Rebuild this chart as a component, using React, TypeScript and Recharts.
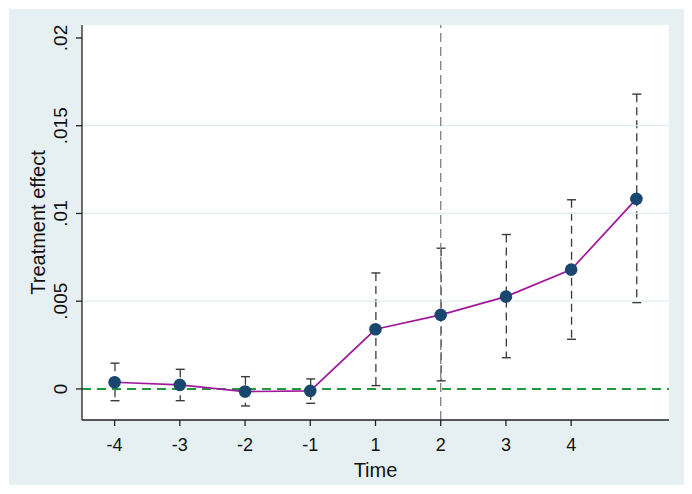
import React from "react";
import {
  ComposedChart,
  Line,
  Bar,
  XAxis,
  YAxis,
  ReferenceLine,
} from "recharts";

// Event-study periods relative to treatment (last period is drawn without a tick label)
const periods = [-4, -3, -2, -1, 1, 2, 3, 4, 5];
const tickLabels = ["-4", "-3", "-2", "-1", "1", "2", "3", "4"];

// Point estimates and 95% confidence bounds
const estimates = [0.00038, 0.00023, -0.00015, -0.00011, 0.0034, 0.00422, 0.00526, 0.0068, 0.01083];
const ciLow = [-0.00067, -0.00067, -0.00097, -0.00082, 0.00019, 0.00046, 0.00178, 0.00283, 0.00492];
const ciHigh = [0.00147, 0.00112, 0.0007, 0.00057, 0.00661, 0.00802, 0.0088, 0.01078, 0.0168];

const yTicks = [0, 0.005, 0.01, 0.015, 0.02];
const gridValues = [0.005, 0.01, 0.015];
const treatmentPeriod = 2;

const data = periods.map((p, i) => ({
  idx: i,
  period: p,
  est: estimates[i],
  ci: [ciLow[i], ciHigh[i]],
}));

const FONT = "'Liberation Sans', Arial, sans-serif";

const fmtY = (v: number) => {
  if (v === 0) return "0";
  return String(v).replace(/^0/, "");
};

const YTick = (props: any) => {
  const { x, y, payload } = props;
  const bx = x - 7;
  return (
    <text
      x={bx}
      y={y}
      transform={`rotate(-90, ${bx}, ${y})`}
      textAnchor="middle"
      fontSize={19}
      fontFamily={FONT}
      fill="#111"
    >
      {fmtY(payload.value)}
    </text>
  );
};

// Dashed confidence interval with solid caps, drawn from the range bar's geometry
const CIShape = (props: any) => {
  const { x, y, width, height } = props;
  if (x == null || y == null) return null;
  const cx = x + width / 2;
  const top = Math.min(y, y + height);
  const bottom = Math.max(y, y + height);
  const cap = 4.5;
  return (
    <g>
      <line x1={cx} x2={cx} y1={top} y2={bottom} stroke="#3a3a3a" strokeWidth={1.3} strokeDasharray="8 5" />
      <line x1={cx - cap} x2={cx + cap} y1={top} y2={top} stroke="#3a3a3a" strokeWidth={1.4} />
      <line x1={cx - cap} x2={cx + cap} y1={bottom} y2={bottom} stroke="#3a3a3a" strokeWidth={1.4} />
    </g>
  );
};

const YTitle = (props: any) => {
  const vb = props.viewBox || {};
  const cx = 36;
  const cy = vb.y + vb.height / 2;
  return (
    <text
      x={cx}
      y={cy}
      transform={`rotate(-90, ${cx}, ${cy})`}
      textAnchor="middle"
      fontSize={20}
      fontFamily={FONT}
      fill="#111"
    >
      Treatment effect
    </text>
  );
};

const XTitle = (props: any) => {
  const vb = props.viewBox || {};
  return (
    <text
      x={vb.x + vb.width / 2}
      y={468}
      textAnchor="middle"
      fontSize={20}
      fontFamily={FONT}
      fill="#111"
    >
      Time
    </text>
  );
};

export default function App() {
  return (
    <div style={{ padding: "1px 0 0 1px" }}>
      <div style={{ width: 675, height: 476, background: "#E6F0F3" }}>
        <ComposedChart
          width={675}
          height={476}
          data={data}
          margin={{ top: 16, right: 15, bottom: 0, left: 0 }}
        >
          <rect x={73} y={16} width={587} height={395} fill="#ffffff" />
          <XAxis
            dataKey="idx"
            type="number"
            domain={[-0.5, 8.5]}
            ticks={tickLabels.map((_, i) => i)}
            tickFormatter={(v: number) => tickLabels[v] ?? ""}
            height={65}
            tickSize={6}
            tickMargin={12}
            axisLine={{ stroke: "#222", strokeWidth: 1.3 }}
            tickLine={{ stroke: "#222", strokeWidth: 1.3 }}
            tick={{ fontSize: 18, fontFamily: FONT, fill: "#111" }}
            label={<XTitle />}
            allowDataOverflow
          />
          <YAxis
            type="number"
            domain={[-0.00177, 0.02074]}
            ticks={yTicks}
            width={73}
            tickSize={6}
            tickMargin={2}
            axisLine={{ stroke: "#222", strokeWidth: 1.3 }}
            tickLine={{ stroke: "#222", strokeWidth: 1.3 }}
            tick={<YTick />}
            label={<YTitle />}
            allowDataOverflow
          />
          {gridValues.map((v) => (
            <ReferenceLine key={v} y={v} stroke="#E2ECF0" strokeWidth={1.2} />
          ))}
          <ReferenceLine
            x={periods.indexOf(treatmentPeriod)}
            stroke="#808080"
            strokeWidth={1.3}
            strokeDasharray="9 5"
          />
          <ReferenceLine y={0} stroke="#1E9A3B" strokeWidth={2} strokeDasharray="9 6" />
          <Bar dataKey="ci" barSize={10} shape={<CIShape />} isAnimationActive={false} />
          <Line
            dataKey="est"
            stroke="#A1189B"
            strokeWidth={1.7}
            dot={{ r: 6.3, fill: "#1A476F", stroke: "#1A476F", strokeWidth: 0 }}
            activeDot={false}
            isAnimationActive={false}
          />
        </ComposedChart>
      </div>
    </div>
  );
}
